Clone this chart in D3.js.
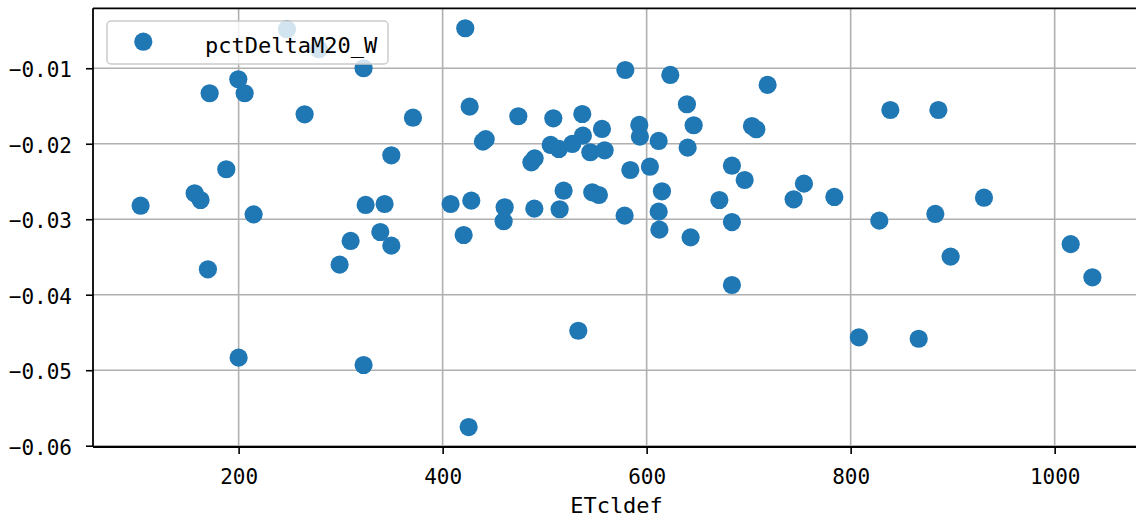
<!DOCTYPE html>
<html>
<head>
<meta charset="utf-8">
<script src="https://cdn.jsdelivr.net/npm/d3@7"></script>
<style>
  html, body { margin: 0; padding: 0; background: #fff; }
  svg { display: block; }
  text { font-family: "DejaVu Sans Mono", "Liberation Mono", monospace; fill: #000; }
</style>
</head>
<body>
<svg id="chart" width="1136" height="520"></svg>
<script>
const seriesName = "pctDeltaM20_W";
const xLabel = "ETcldef";
const xTicks = [200, 400, 600, 800, 1000];
const yTicks = [-0.01, -0.02, -0.03, -0.04, -0.05, -0.06];

const xValues = [
  247.4, 278.7, 322.5, 199.7, 205.9, 171.6, 264.7, 349.7, 187.9, 103.9,
  156.9, 162.7, 214.7, 169.9, 299.0, 309.8, 324.5, 343.1, 338.9, 349.7,
  200.0, 322.5, 422.2, 579.1, 623.2, 718.6, 370.9, 426.5, 474.2, 508.5,
  536.9, 556.2, 592.8, 593.4, 639.5, 646.1, 703.2, 707.5, 439.5, 442.2,
  505.9, 514.0, 527.1, 537.5, 544.8, 558.8, 611.8, 640.2, 487.0, 490.2,
  584.0, 603.2, 683.6, 696.1, 518.6, 546.7, 553.2, 615.0, 744.1, 671.3,
  407.8, 428.1, 460.8, 489.9, 514.7, 459.8, 578.4, 611.8, 612.5, 683.6,
  420.6, 643.1, 683.6, 533.0, 425.5, 838.9, 886.0, 754.2, 784.0, 828.1,
  883.0, 930.7, 1015.7, 898.0, 1037.0, 808.1, 866.7
];
const yValues = [
  -0.00483, -0.00748, -0.0100, -0.01146, -0.01331, -0.01331, -0.0161, -0.02153, -0.02338, -0.02821,
  -0.02656, -0.02745, -0.02935, -0.03663, -0.03602, -0.03288, -0.02811, -0.02798, -0.03169, -0.0335,
  -0.04834, -0.04931, -0.0047, -0.01023, -0.01089, -0.01221, -0.01655, -0.01509, -0.01636, -0.01663,
  -0.01606, -0.01804, -0.01751, -0.01906, -0.01477, -0.01755, -0.01765, -0.01808, -0.01972, -0.0194,
  -0.02016, -0.02069, -0.02003, -0.01893, -0.02113, -0.02087, -0.01963, -0.02052, -0.02246, -0.02193,
  -0.02348, -0.02304, -0.02291, -0.0248, -0.02622, -0.02643, -0.02679, -0.0263, -0.02736, -0.02745,
  -0.02798, -0.02754, -0.02842, -0.0286, -0.02868, -0.03027, -0.02953, -0.029, -0.03138, -0.03037,
  -0.03209, -0.0324, -0.03871, -0.04477, -0.05753, -0.01553, -0.01553, -0.02529, -0.02705, -0.03019,
  -0.0293, -0.02715, -0.0333, -0.03496, -0.03769, -0.04564, -0.04583
];

const points = xValues.map((x, i) => ({ x, y: yValues[i] }));
const color = "#1f77b4";

const svg = d3.select("#chart");
const pLeft = 93, pRight = 1140, pTop = 8.3, pBottom = 447;

function padded(ext) {
  const span = ext[1] - ext[0];
  return [ext[0] - span * 0.05, ext[1] + span * 0.05];
}
const x = d3.scaleLinear().domain(padded(d3.extent(xValues))).range([pLeft, pRight]);
const y = d3.scaleLinear().domain(padded(d3.extent(yValues))).range([pBottom, pTop]);

// grid
const grid = svg.append("g");
grid.selectAll(".gx").data(xTicks).join("line")
  .attr("x1", d => x(d)).attr("x2", d => x(d))
  .attr("y1", pTop).attr("y2", pBottom)
  .attr("stroke", "#b0b0b0").attr("stroke-width", 1.6);
grid.selectAll(".gy").data(yTicks).join("line")
  .attr("y1", d => y(d)).attr("y2", d => y(d))
  .attr("x1", pLeft).attr("x2", pRight)
  .attr("stroke", "#b0b0b0").attr("stroke-width", 1.6);

// points
svg.append("g").selectAll("circle").data(points).join("circle")
  .attr("cx", d => x(d.x)).attr("cy", d => y(d.y))
  .attr("r", 9.1).attr("fill", color);

// axes
const fmt = d3.format(".2f");
const xAxis = svg.append("g").attr("transform", `translate(0,${pBottom})`)
  .call(d3.axisBottom(x).tickValues(xTicks).tickFormat(d3.format("d")).tickSize(7).tickPadding(8).tickSizeOuter(0));
xAxis.select(".domain").remove();
xAxis.selectAll(".tick line").attr("stroke", "#000").attr("stroke-width", 1.6);
xAxis.selectAll(".tick text").attr("y", 36.5).attr("dy", null)
  .style("font-family", "'DejaVu Sans Mono', monospace").style("font-size", "21px").attr("fill", "#000");

const yAxis = svg.append("g").attr("transform", `translate(${pLeft},0)`)
  .call(d3.axisLeft(y).tickValues(yTicks).tickFormat(fmt).tickSize(7).tickPadding(14).tickSizeOuter(0));
yAxis.select(".domain").remove();
yAxis.selectAll(".tick line").attr("stroke", "#000").attr("stroke-width", 1.6);
yAxis.selectAll(".tick text").attr("dy", "0.4em")
  .style("font-family", "'DejaVu Sans Mono', monospace").style("font-size", "21px").attr("fill", "#000");

// spines
const sp = svg.append("g").attr("stroke", "#000").attr("stroke-width", 1.8).attr("fill", "none");
sp.append("line").attr("x1", pLeft).attr("x2", pLeft).attr("y1", pTop).attr("y2", pBottom);
sp.append("line").attr("x1", pLeft).attr("x2", pRight).attr("y1", pBottom).attr("y2", pBottom);
sp.append("line").attr("x1", pLeft).attr("x2", pRight).attr("y1", pTop).attr("y2", pTop);
sp.append("line").attr("x1", pRight).attr("x2", pRight).attr("y1", pTop).attr("y2", pBottom);

// x label
svg.append("text")
  .attr("x", (pLeft + pRight) / 2).attr("y", 513)
  .attr("text-anchor", "middle")
  .style("font-size", "22px")
  .text(xLabel);

// legend
const lg = svg.append("g");
lg.append("rect").attr("x", 107).attr("y", 21).attr("width", 281).attr("height", 43)
  .attr("rx", 4).attr("fill", "#fff").attr("fill-opacity", 0.8)
  .attr("stroke", "#cccccc").attr("stroke-width", 1.5);
lg.append("circle").attr("cx", 143.3).attr("cy", 41.7).attr("r", 9.1).attr("fill", color);
lg.append("text").attr("x", 205).attr("y", 52.7).style("font-size", "22px").text(seriesName);
</script>
</body>
</html>
